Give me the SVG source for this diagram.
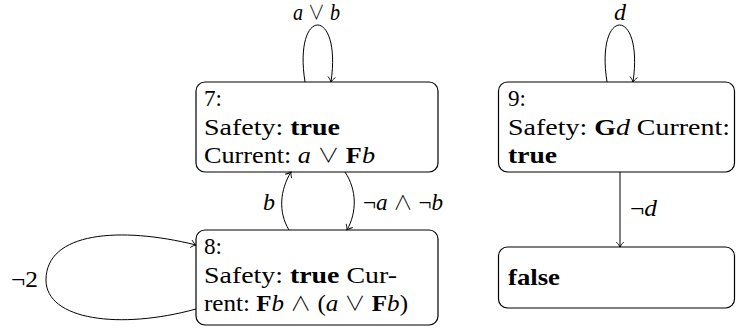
<svg xmlns="http://www.w3.org/2000/svg" width="736" height="334" viewBox="0 0 736 334">
  <style>
    text { font-family: "Liberation Serif", "DejaVu Serif", serif; font-size: 24px; fill: #000; }
    .b { font-weight: bold; }
    .i { font-style: italic; }
    .op { font-family: "Noto Sans CJK SC", "DejaVu Sans", sans-serif; font-weight: 300; font-size: 20px; }
    .node { fill: #fff; stroke: #000; stroke-width: 1.2; }
    .edge { fill: none; stroke: #000; stroke-width: 1; marker-end: url(#to); }
  </style>
  <defs>
    <marker id="to" viewBox="-7 -5 8 10" refX="0" refY="0" markerWidth="8" markerHeight="10" markerUnits="userSpaceOnUse" orient="auto">
      <path d="M-5,-3.8 C-3,-1.6 -1,-0.5 0,0 C-1,0.5 -3,1.6 -5,3.8" fill="none" stroke="#000" stroke-width="0.9"/>
    </marker>
  </defs>

  <!-- state 7 -->
  <g id="n7">
    <rect class="node" x="196" y="82" width="242" height="90" rx="9"/>
    <text x="204" y="106" textLength="18" lengthAdjust="spacingAndGlyphs">7:</text>
    <text x="204" y="134.5" textLength="136" lengthAdjust="spacingAndGlyphs">Safety: <tspan class="b">true</tspan></text>
    <text x="204" y="163" textLength="171" lengthAdjust="spacingAndGlyphs">Current: <tspan class="i">a</tspan> <tspan class="op">∨</tspan> <tspan class="b">F</tspan><tspan class="i">b</tspan></text>
  </g>

  <!-- state 8 -->
  <g id="n8">
    <rect class="node" x="196" y="230" width="242" height="95" rx="9"/>
    <text x="204" y="254" textLength="18" lengthAdjust="spacingAndGlyphs">8:</text>
    <text x="204" y="282.5" textLength="193" lengthAdjust="spacingAndGlyphs">Safety: <tspan class="b">true</tspan> Cur-</text>
    <text x="204" y="311" textLength="204" lengthAdjust="spacingAndGlyphs">rent: <tspan class="b">F</tspan><tspan class="i">b</tspan> <tspan class="op">∧</tspan> (<tspan class="i">a</tspan> <tspan class="op">∨</tspan> <tspan class="b">F</tspan><tspan class="i">b</tspan>)</text>
  </g>

  <!-- state 9 -->
  <g id="n9">
    <rect class="node" x="498.5" y="82" width="236" height="90" rx="9"/>
    <text x="508" y="106" textLength="18" lengthAdjust="spacingAndGlyphs">9:</text>
    <text x="508" y="134.5" textLength="222" lengthAdjust="spacingAndGlyphs">Safety: <tspan class="b">G</tspan><tspan class="i">d</tspan> Current:</text>
    <text x="508" y="163" textLength="49" lengthAdjust="spacingAndGlyphs" class="b">true</text>
  </g>

  <!-- sink state -->
  <g id="nfalse">
    <rect class="node" x="498.5" y="247" width="236" height="61" rx="9"/>
    <text x="508" y="285" textLength="52" lengthAdjust="spacingAndGlyphs" class="b">false</text>
  </g>

  <!-- transitions -->
  <g id="edges">
    <path class="edge" d="M305,82 C293,6 342,6 331,82"/>
    <text x="293" y="19.5" textLength="47" lengthAdjust="spacingAndGlyphs"><tspan class="i">a</tspan> <tspan class="op">∨</tspan> <tspan class="i">b</tspan></text>

    <path class="edge" d="M345,172 C357,190 357,212 347,230"/>
    <text x="363" y="210" textLength="80" lengthAdjust="spacingAndGlyphs">¬<tspan class="i">a</tspan> <tspan class="op">∧</tspan> ¬<tspan class="i">b</tspan></text>

    <path class="edge" d="M289,230 C278,212 280,190 291,172"/>
    <text x="263" y="210" class="i">b</text>

    <path class="edge" d="M196,309 C120,330 46,320 46,280 C46,232 120,226 196,245"/>
    <text x="11" y="287" textLength="27" lengthAdjust="spacingAndGlyphs">¬2</text>

    <path class="edge" d="M607,82 C595,6 644,6 633,82"/>
    <text x="614" y="19.5" class="i">d</text>

    <path class="edge" d="M620,172 L620,247"/>
    <text x="630" y="216" textLength="27" lengthAdjust="spacingAndGlyphs">¬<tspan class="i">d</tspan></text>
  </g>
</svg>
